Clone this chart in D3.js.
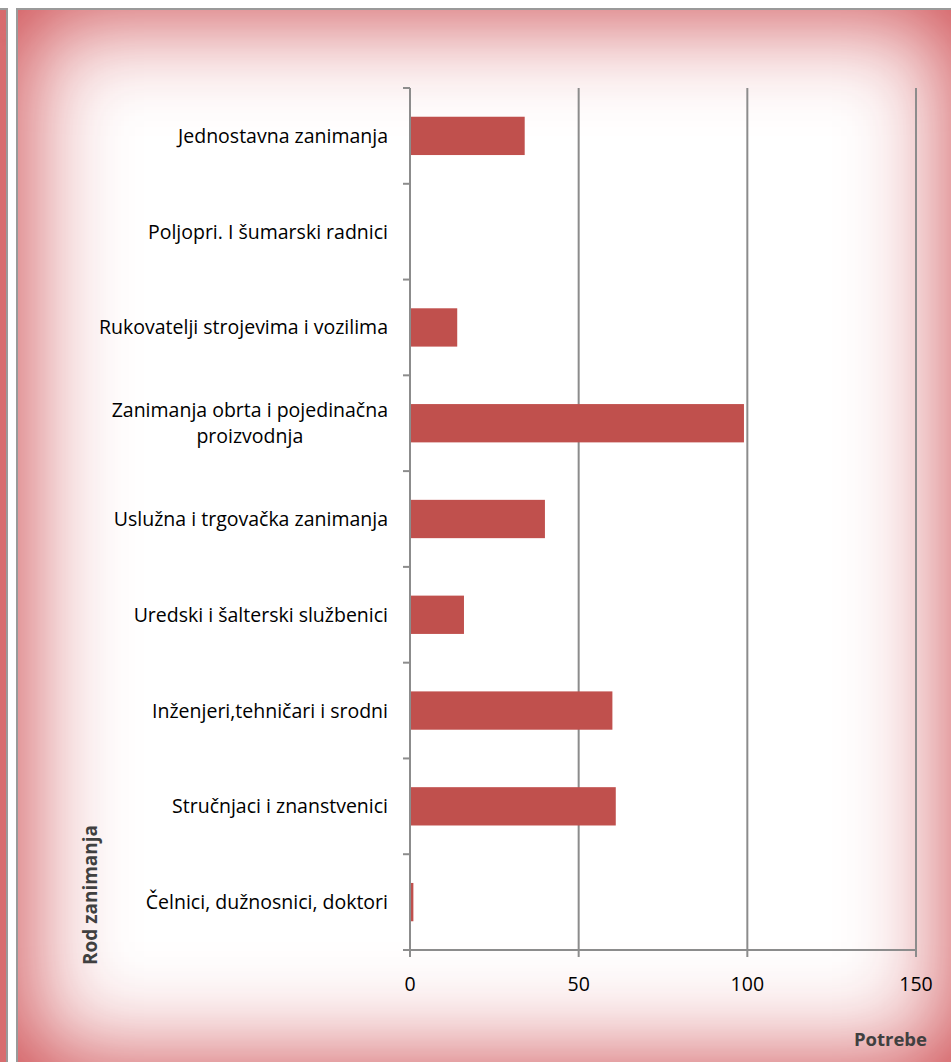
<!DOCTYPE html>
<html>
<head>
<meta charset="utf-8">
<script src="https://cdn.jsdelivr.net/npm/d3@7"></script>
<style>
  html, body { margin: 0; padding: 0; background: #fff; overflow: hidden; }
  #strip { position: absolute; left: -20px; top: 8px; width: 26px; height: 1100px;
    border-right: 2px solid #9a9a9a; border-top: 2px solid #9a9a9a;
    background: #e39a9a; box-shadow: inset 0 0 40px 10px rgba(205,70,75,0.6); }
  #frame { position: absolute; left: 16px; top: 8px; width: 940px; height: 1058px;
    border-left: 2px solid #9a9a9a; border-top: 2px solid #9a9a9a; background: #fff;
    box-shadow: inset 0 0 100px 6px rgba(200,55,60,0.95); }
  svg { position: absolute; left: 0; top: 0; }
</style>
</head>
<body>
<div id="strip"></div>
<div id="frame"></div>
<svg id="chart" width="951" height="1062"></svg>
<script>
const categories = [
  "Jednostavna zanimanja",
  "Poljopri. I šumarski radnici",
  "Rukovatelji strojevima i vozilima",
  "Zanimanja obrta i pojedinačna|proizvodnja",
  "Uslužna i trgovačka zanimanja",
  "Uredski i šalterski službenici",
  "Inženjeri,tehničari i srodni",
  "Stručnjaci i znanstvenici",
  "Čelnici, dužnosnici, doktori"
];
const values = [34, 0, 14, 99, 40, 16, 60, 61, 1];
const xTicks = [0, 50, 100, 150];
const xTitle = "Potrebe";
const yTitle = "Rod zanimanja";

const svg = d3.select("#chart");
const pL = 410, pR = 916, pT = 88, pB = 950;
const axisColor = "#8c8c8c";
const font = "'Open Sans', Lato, sans-serif";
const labelRight = 388;

const x = d3.scaleLinear().domain([0, 150]).range([pL, pR]);
const y = d3.scaleBand().domain(categories).range([pT, pB]).paddingInner(0.6).paddingOuter(0.3);
const yb = d3.scaleBand().domain(categories).range([pT, pB]);

// gridlines
svg.append("g").selectAll("line").data(xTicks.filter(d => d > 0)).join("line")
  .attr("x1", d => x(d)).attr("x2", d => x(d))
  .attr("y1", pT).attr("y2", pB)
  .attr("stroke", axisColor).attr("stroke-width", 2);

// bars
svg.append("g").selectAll("rect").data(values).join("rect")
  .attr("x", x(0))
  .attr("y", (d, i) => y(categories[i]))
  .attr("width", d => Math.max(0, x(d) - x(0)))
  .attr("height", y.bandwidth())
  .attr("fill", "#c0504d");

// y axis
const yAxisG = svg.append("g");
yAxisG.append("line").attr("x1", pL).attr("x2", pL).attr("y1", pT).attr("y2", pB)
  .attr("stroke", axisColor).attr("stroke-width", 2);
const yTickPos = categories.map(c => yb(c)).concat([pB]);
yAxisG.selectAll("line.t").data(yTickPos).join("line").attr("class", "t")
  .attr("x1", pL - 7).attr("x2", pL).attr("y1", d => d).attr("y2", d => d)
  .attr("stroke", axisColor).attr("stroke-width", 2);

// x axis
const xAxisG = svg.append("g");
xAxisG.append("line").attr("x1", pL - 7).attr("x2", pR).attr("y1", pB).attr("y2", pB)
  .attr("stroke", axisColor).attr("stroke-width", 2);
xAxisG.selectAll("line.t").data(xTicks).join("line").attr("class", "t")
  .attr("x1", d => x(d)).attr("x2", d => x(d)).attr("y1", pB).attr("y2", pB + 7)
  .attr("stroke", axisColor).attr("stroke-width", 2);
xAxisG.selectAll("text").data(xTicks).join("text")
  .attr("x", d => x(d)).attr("y", 991)
  .attr("text-anchor", "middle")
  .attr("font-family", font).attr("font-size", 19.5).attr("fill", "#000")
  .text(d => d);

// category labels
svg.append("g").selectAll("text").data(categories).join("text")
  .attr("font-family", font).attr("font-size", 19.5).attr("fill", "#000")
  .each(function(c) {
    const lines = c.split("|");
    const cy = yb(c) + yb.bandwidth() / 2;
    const t = d3.select(this);
    if (lines.length === 1) {
      t.attr("x", labelRight).attr("y", cy + 7).attr("text-anchor", "end").text(lines[0]);
    } else {
      t.attr("text-anchor", "middle");
      const spans = lines.map((ln, k) =>
        t.append("tspan").attr("y", cy - 6 + k * 26).text(ln));
      const maxW = d3.max(spans, s => s.node().getComputedTextLength());
      spans.forEach(s => s.attr("x", labelRight - maxW / 2));
    }
  });

// axis titles
svg.append("text").attr("x", 927).attr("y", 1046).attr("text-anchor", "end")
  .attr("font-family", font).attr("font-weight", "bold").attr("font-size", 18.5).attr("fill", "#404040")
  .text(xTitle);
svg.append("text").attr("transform", "translate(97,895) rotate(-90)").attr("text-anchor", "middle")
  .attr("font-family", font).attr("font-weight", "bold").attr("font-size", 19).attr("fill", "#404040")
  .text(yTitle);
</script>
</body>
</html>
